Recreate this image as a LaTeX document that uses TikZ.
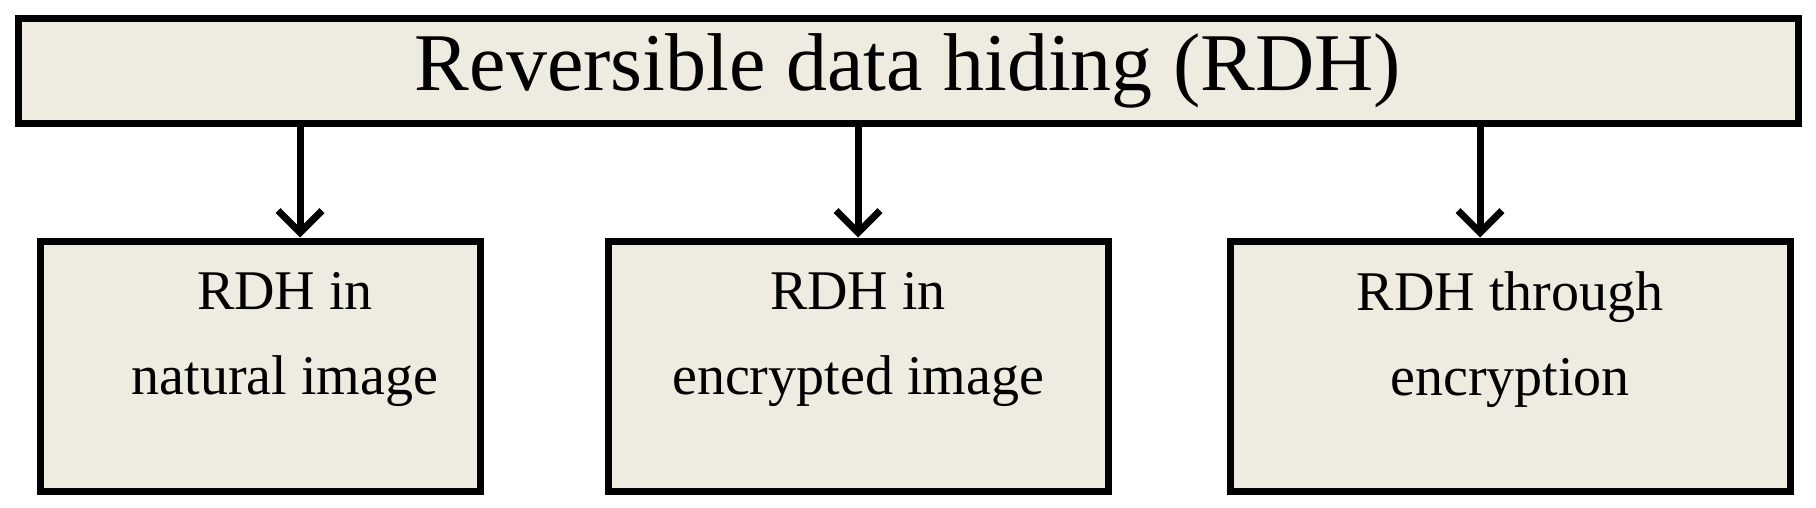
\documentclass[tikz,border=0pt]{standalone}
\usepackage{fontspec}
\setmainfont{Liberation Serif}
\usetikzlibrary{arrows.meta}
\definecolor{boxfill}{HTML}{EEEBE0}
\begin{document}
\begin{tikzpicture}[x=1pt,y=-1pt,
  box/.style={draw=black,line width=7pt,fill=boxfill,inner sep=0pt},
  lbl/.style={inner sep=0pt,font=\fontsize{56}{85}\selectfont,align=center},
  arr/.style={line width=7pt,-{Straight Barb[length=22pt,width=44pt,line width=7pt]}}]
\useasboundingbox (0,0) rectangle (1816,508);
\node[box,minimum width=1780pt,minimum height=105pt,font=\fontsize{82}{90}\selectfont] (top) at (908,71) {Reversible data hiding (RDH)};
\node[box,minimum width=440pt,minimum height=250pt] (a) at (260,366) {};
\node[box,minimum width=500pt,minimum height=250pt] (b) at (858,366) {};
\node[box,minimum width=560pt,minimum height=250pt] (c) at (1510,366) {};
\node[lbl] (ta) at (285,340) {RDH in\\natural image};
\node[lbl] (tb) at (858,340) {RDH in\\encrypted image};
\node[lbl] (tc) at (1510,340) {RDH through\\encryption};
\draw[arr] (top.south -| 300,0) -- (a.north -| 300,0);
\draw[arr] (top.south -| 858,0) -- (b.north -| 858,0);
\draw[arr] (top.south -| 1480,0) -- (c.north -| 1480,0);
\end{tikzpicture}
\end{document}
